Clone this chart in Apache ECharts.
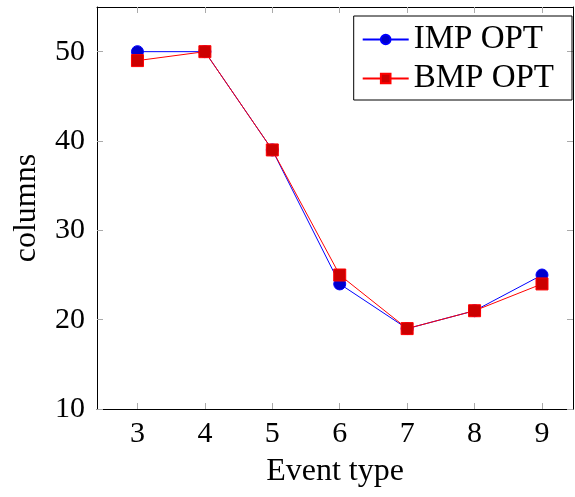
<!DOCTYPE html>
<html>
<head>
<meta charset="utf-8">
<script src="https://cdn.jsdelivr.net/npm/echarts@6/dist/echarts.min.js"></script>
<style>
  html, body { margin: 0; padding: 0; background: #fff; }
  #main { width: 575px; height: 497px; }
</style>
</head>
<body>
<div id="main"></div>
<script>
// data
const eventTypes = [3, 4, 5, 6, 7, 8, 9];
const impOpt = [50, 50, 39, 24, 19, 21, 25];
const bmpOpt = [49, 50, 39, 25, 19, 21, 24];
const yTicks = [10, 20, 30, 40, 50];

const font = "'Liberation Serif', 'DejaVu Serif', serif";

const chart = echarts.init(document.getElementById('main'));

const tickStyle = { show: true, inside: true, length: 6, lineStyle: { color: '#aaa', width: 1 } };

const option = {
  animation: false,
  grid: { left: 97, right: 2, top: 7, bottom: 88, containLabel: false, outerBoundsMode: 'none' },
  legend: {
    right: 3,
    top: 16,
    orient: 'vertical',
    borderColor: '#000',
    borderWidth: 1,
    borderRadius: 0,
    padding: [7, 18, 5, 8],
    itemGap: 6,
    itemWidth: 46,
    itemHeight: 12,
    textStyle: { fontFamily: font, fontSize: 33, color: '#000' },
    data: ['IMP OPT', 'BMP OPT']
  },
  xAxis: [
    {
      type: 'value', min: 2.4, max: 9.46, interval: 1,
      name: 'Event type', nameLocation: 'middle', nameGap: 47,
      nameTextStyle: { fontFamily: font, fontSize: 32, color: '#000' },
      axisLine: { lineStyle: { color: '#000', width: 1 } },
      axisTick: Object.assign({ customValues: eventTypes }, tickStyle),
      axisLabel: { customValues: eventTypes, fontFamily: font, fontSize: 30, color: '#000', margin: 10 },
      splitLine: { show: false }
    },
    {
      type: 'value', min: 2.4, max: 9.46, position: 'top',
      axisLine: { lineStyle: { color: '#000', width: 1 } },
      axisTick: Object.assign({ customValues: eventTypes }, tickStyle),
      axisLabel: { show: false },
      splitLine: { show: false }
    }
  ],
  yAxis: [
    {
      type: 'value', min: 10, max: 55,
      name: 'columns', nameLocation: 'middle', nameGap: 54,
      nameTextStyle: { fontFamily: font, fontSize: 32, color: '#000' },
      axisLine: { show: true, lineStyle: { color: '#000', width: 1 } },
      axisTick: Object.assign({ customValues: yTicks }, tickStyle),
      axisLabel: { customValues: yTicks, fontFamily: font, fontSize: 30, color: '#000', margin: 12 },
      splitLine: { show: false }
    },
    {
      type: 'value', min: 10, max: 55, position: 'right',
      axisLine: { show: true, lineStyle: { color: '#000', width: 1 } },
      axisTick: Object.assign({ customValues: yTicks }, tickStyle),
      axisLabel: { show: false },
      splitLine: { show: false }
    }
  ],
  series: [
    {
      name: 'IMP OPT',
      type: 'line',
      data: eventTypes.map((x, i) => [x, impOpt[i]]),
      symbol: 'circle',
      symbolSize: 12,
      lineStyle: { color: '#0000ff', width: 1 },
      itemStyle: { color: '#0000cc', borderColor: '#0000ff', borderWidth: 1 }
    },
    {
      name: 'BMP OPT',
      type: 'line',
      data: eventTypes.map((x, i) => [x, bmpOpt[i]]),
      symbol: 'rect',
      symbolSize: 12,
      lineStyle: { color: '#ff0000', width: 1 },
      itemStyle: { color: '#cc0000', borderColor: '#ff0000', borderWidth: 1 }
    }
  ]
};

chart.setOption(option);
</script>
</body>
</html>
